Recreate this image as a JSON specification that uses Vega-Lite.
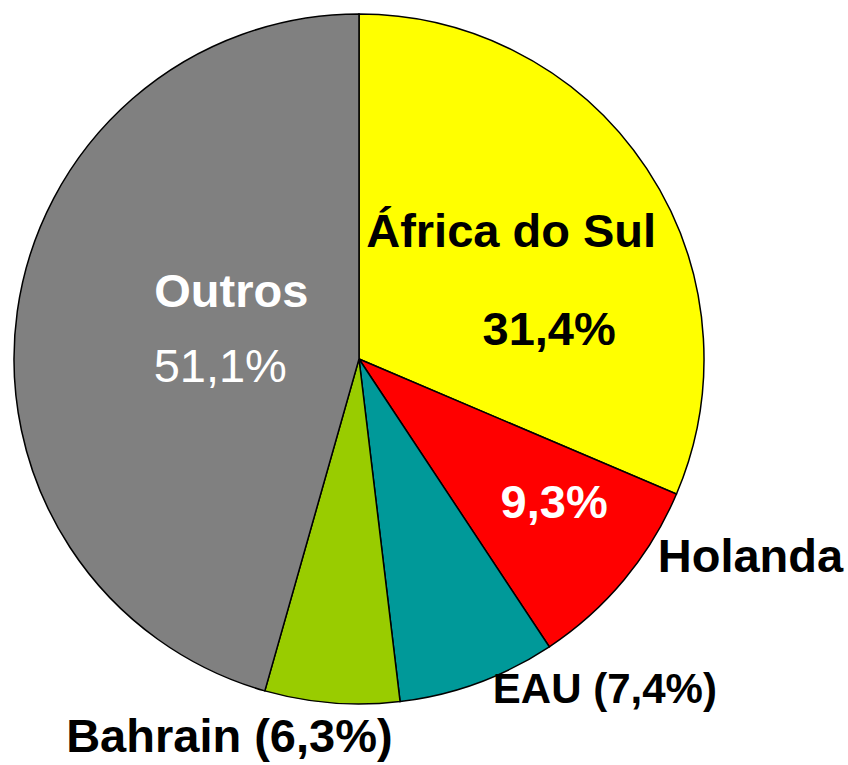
{
  "$schema": "https://vega.github.io/schema/vega-lite/v6.json",
  "width": 718,
  "height": 718,
  "autosize": {"type": "none"},
  "padding": {"left": 0, "top": 0, "right": 130, "bottom": 47},
  "background": "white",
  "config": {"view": {"stroke": null}},
  "data": {"values": [
    {"ordem": 1, "pais": "África do Sul", "valor": 31.4, "pct": "31,4%", "rotulo": "África do Sul"},
    {"ordem": 2, "pais": "Holanda", "valor": 9.3, "pct": "9,3%", "rotulo": "Holanda"},
    {"ordem": 3, "pais": "EAU", "valor": 7.4, "pct": "7,4%", "rotulo": "EAU (7,4%)"},
    {"ordem": 4, "pais": "Bahrain", "valor": 6.3, "pct": "6,3%", "rotulo": "Bahrain (6,3%)"},
    {"ordem": 5, "pais": "Outros", "valor": 45.6, "pct": "51,1%", "rotulo": "Outros"}
  ]},
  "encoding": {
    "theta": {"field": "valor", "type": "quantitative", "stack": true},
    "order": {"field": "ordem", "type": "quantitative"}
  },
  "layer": [
    {
      "mark": {"type": "arc", "outerRadius": 345, "stroke": "black", "strokeWidth": 1.5},
      "encoding": {
        "color": {"field": "pais", "type": "nominal", "legend": null,
          "scale": {"domain": ["África do Sul", "Holanda", "EAU", "Bahrain", "Outros"],
                    "range": ["#FFFF00", "#FF0000", "#009999", "#99CC00", "#808080"]}}
      }
    },
    {
      "mark": {"type": "text", "radius": 180, "dx": 2, "dy": -13, "font": "Liberation Sans", "fontSize": 47, "fontWeight": "bold", "align": "center", "baseline": "alphabetic", "color": "black"},
      "encoding": {"text": {"condition": {"test": "datum.ordem === 1", "field": "rotulo"}, "value": ""}}
    },
    {
      "mark": {"type": "text", "radius": 180, "dx": 40, "dy": 85, "font": "Liberation Sans", "fontSize": 47, "fontWeight": "bold", "align": "center", "baseline": "alphabetic", "color": "black"},
      "encoding": {"text": {"condition": {"test": "datum.ordem === 1", "field": "pct"}, "value": ""}}
    },
    {
      "mark": {"type": "text", "radius": 250, "dx": 3, "dy": -1, "font": "Liberation Sans", "fontSize": 47, "fontWeight": "bold", "align": "center", "baseline": "alphabetic", "color": "white"},
      "encoding": {"text": {"condition": {"test": "datum.ordem === 2", "field": "pct"}, "value": ""}}
    },
    {
      "mark": {"type": "text", "radius": 430, "dx": 61, "dy": -62, "font": "Liberation Sans", "fontSize": 47, "fontWeight": "bold", "align": "center", "baseline": "alphabetic", "color": "black"},
      "encoding": {"text": {"condition": {"test": "datum.ordem === 2", "field": "rotulo"}, "value": ""}}
    },
    {
      "mark": {"type": "text", "radius": 400, "dx": 108, "dy": -31, "font": "Liberation Sans", "fontSize": 42, "fontWeight": "bold", "align": "center", "baseline": "alphabetic", "color": "black"},
      "encoding": {"text": {"condition": {"test": "datum.ordem === 3", "field": "rotulo"}, "value": ""}}
    },
    {
      "mark": {"type": "text", "radius": 390, "dx": -99, "dy": 4, "font": "Liberation Sans", "fontSize": 47, "fontWeight": "bold", "align": "center", "baseline": "alphabetic", "color": "black"},
      "encoding": {"text": {"condition": {"test": "datum.ordem === 4", "field": "rotulo"}, "value": ""}}
    },
    {
      "mark": {"type": "text", "radius": 135, "dx": 6, "dy": -33, "font": "Liberation Sans", "fontSize": 47, "fontWeight": "bold", "align": "center", "baseline": "alphabetic", "color": "white"},
      "encoding": {"text": {"condition": {"test": "datum.ordem === 5", "field": "rotulo"}, "value": ""}}
    },
    {
      "mark": {"type": "text", "radius": 135, "dx": -5, "dy": 42, "font": "Liberation Sans", "fontSize": 47, "fontWeight": "normal", "align": "center", "baseline": "alphabetic", "color": "white"},
      "encoding": {"text": {"condition": {"test": "datum.ordem === 5", "field": "pct"}, "value": ""}}
    }
  ]
}
